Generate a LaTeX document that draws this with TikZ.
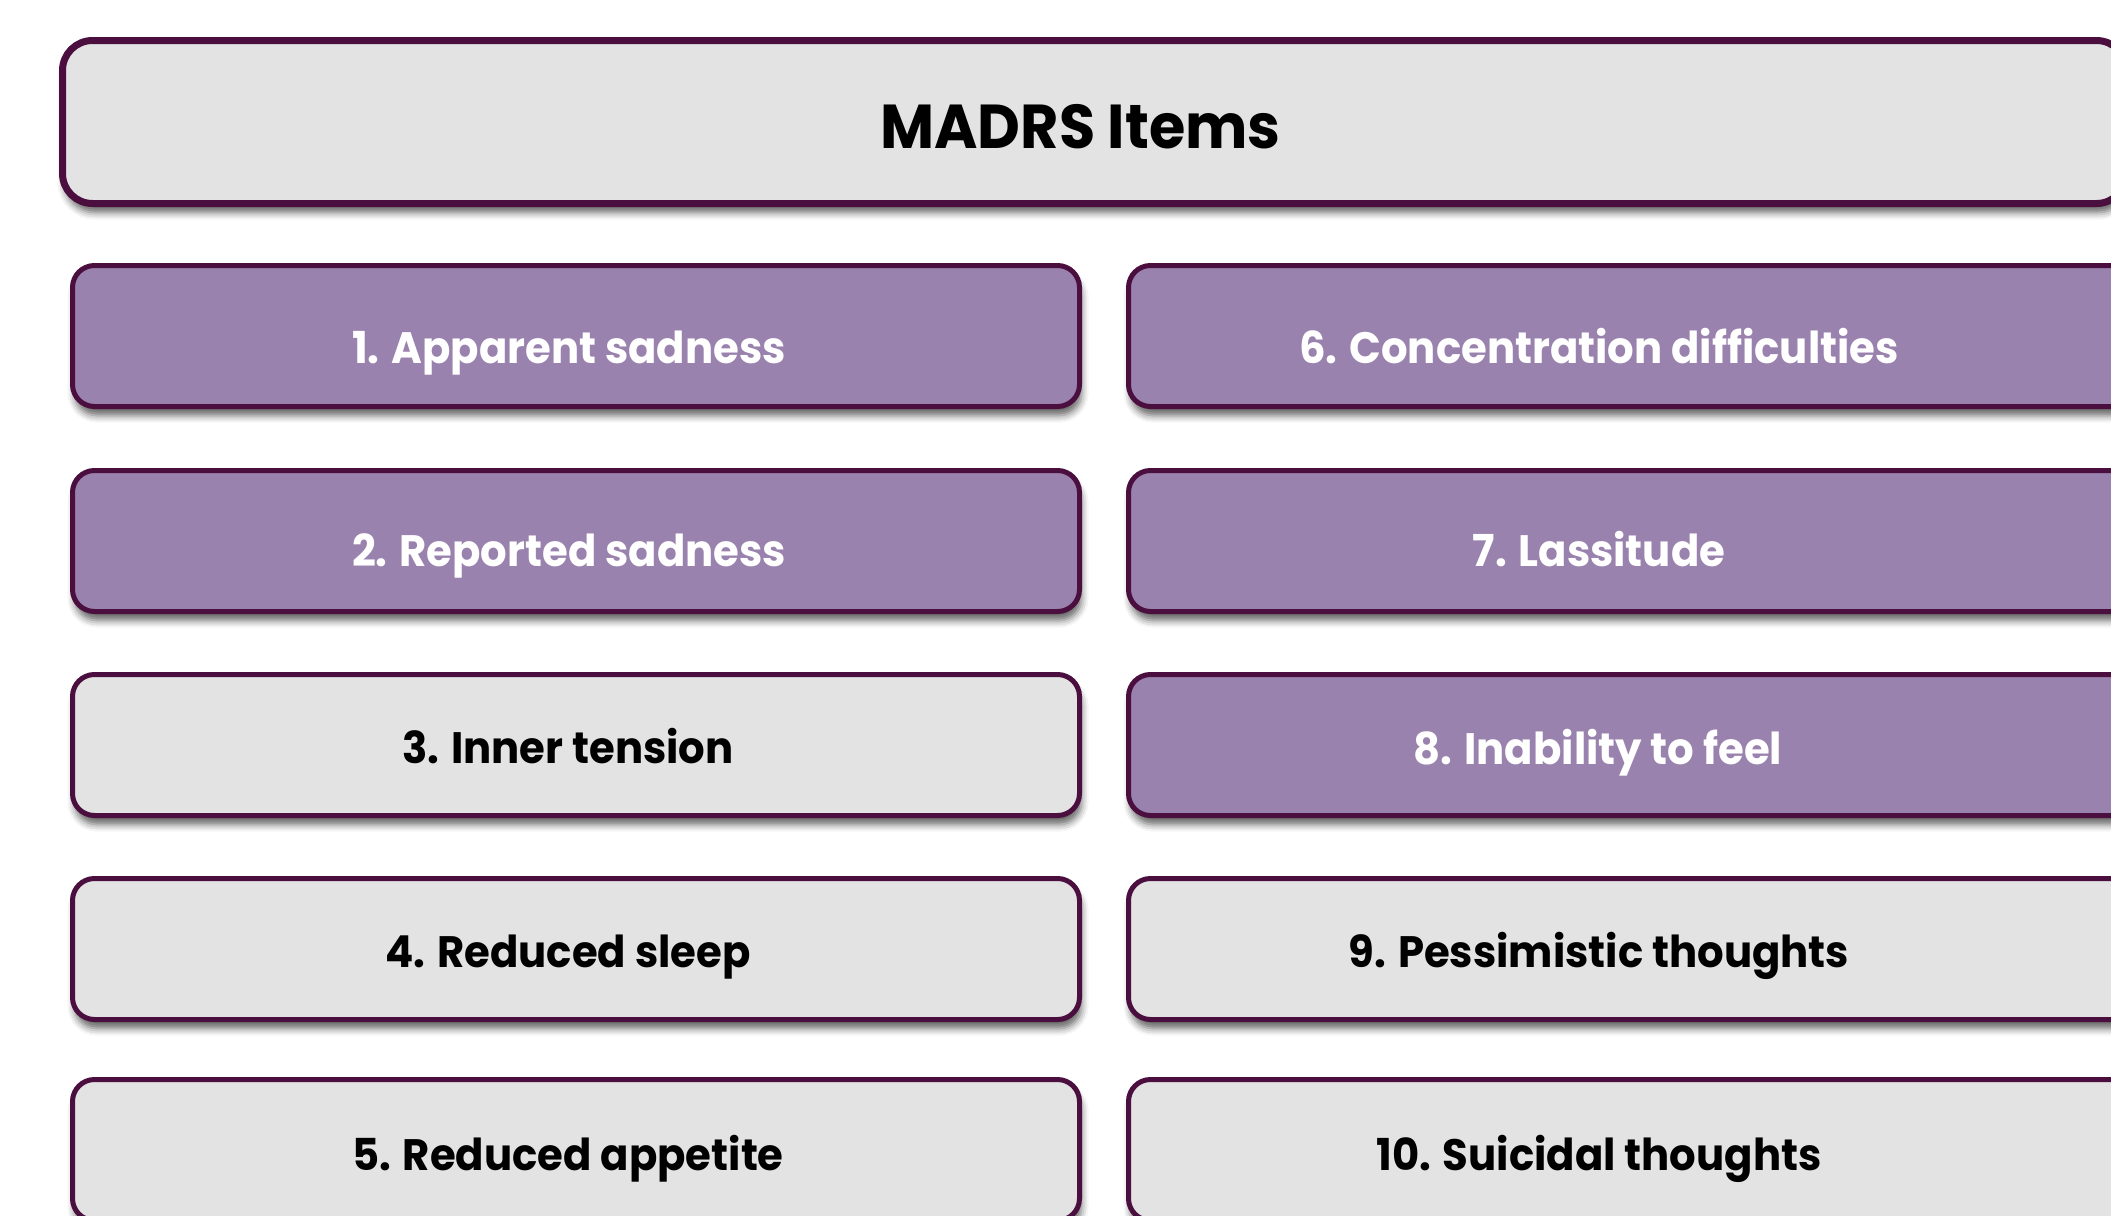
\documentclass[tikz,border=0pt]{standalone}
\usepackage{fontspec}
\setmainfont{Poppins}[FakeStretch=0.95]
\usetikzlibrary{shadows.blur}
\definecolor{rim}{HTML}{4B0F3F}
\definecolor{plum}{HTML}{9A82AE}
\definecolor{pale}{HTML}{E3E3E3}
\begin{document}
\begin{tikzpicture}[x=0.5pt,y=-0.5pt,
  soft/.style={blur shadow={shadow xshift=1pt, shadow yshift=-4.5pt,
      shadow blur radius=3.5pt, shadow opacity=60}},
  card/.style={draw=rim, line width=2.5pt, rounded corners=11pt,
      minimum width=503.5pt, minimum height=70.5pt, inner sep=0pt, soft},
  hot/.style={card, fill=plum},
  calm/.style={card, fill=pale},
  headbox/.style={draw=rim, fill=pale, line width=3.5pt, rounded corners=15pt,
      minimum width=1032pt, minimum height=81.5pt, inner sep=0pt, soft},
  lbl/.style={anchor=base, inner sep=0pt,
      font=\fontsize{22}{26}\selectfont\bfseries},
  lblw/.style={lbl, text=white},
  lblk/.style={lbl, text=black},
]
\useasboundingbox (0,0) rectangle (2111,1216);

% heading
\node[headbox] (head) at (1094.5,122) {};
\node[anchor=base, inner sep=0pt, font=\fontsize{31}{36}\selectfont\bfseries]
  (headtxt) at (1080.5,148) {MADRS Items};

% left column
\node[hot]  (b1) at (576,336) {};
\node[hot]  (b2) at (576,541) {};
\node[calm] (b3) at (576,745) {};
\node[calm] (b4) at (576,949) {};
\node[calm] (b5) at (576,1150) {};

% right column
\node[hot]  (b6)  at (1632,336) {};
\node[hot]  (b7)  at (1632,541) {};
\node[hot]  (b8)  at (1632,745) {};
\node[calm] (b9)  at (1632,949) {};
\node[calm] (b10) at (1632,1150) {};

% item labels
\node[lblw] (t1) at (569,363)  {1. Apparent sadness};
\node[lblw] (t2) at (569,566)  {2. Reported sadness};
\node[lblk] (t3) at (568,763)  {3. Inner tension};
\node[lblk] (t4) at (568,967)  {4. Reduced sleep};
\node[lblk] (t5) at (568,1170) {5. Reduced appetite};

\node[lblw] (t6)  at (1599,363)  {6. Concentration difficulties};
\node[lblw] (t7)  at (1599,566)  {7. Lassitude};
\node[lblw] (t8)  at (1598,764)  {8. Inability to feel};
\node[lblk] (t9)  at (1599,967)  {9. Pessimistic thoughts};
\node[lblk] (t10) at (1599,1170) {10. Suicidal thoughts};
\end{tikzpicture}
\end{document}
